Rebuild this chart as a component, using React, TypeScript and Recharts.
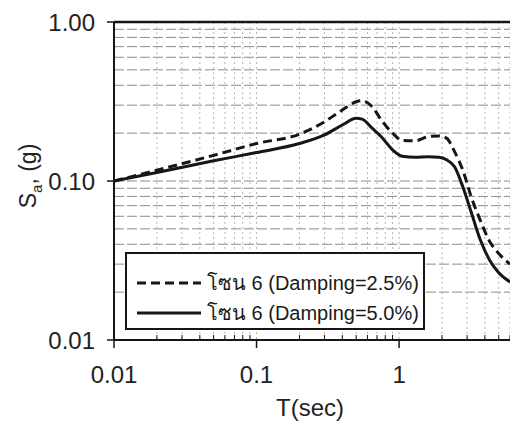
import { CartesianGrid, Legend, Line, LineChart, ReferenceLine, XAxis, YAxis } from "recharts";

const periods = [0.01, 0.02, 0.05, 0.1, 0.2, 0.3, 0.4, 0.5, 0.55, 0.65, 0.75, 0.9, 1.05, 1.3, 1.6, 1.9, 2.15, 2.45, 2.8, 3.2, 3.7, 4.3, 5.0, 6.0];
const sa25 = [0.1, 0.117, 0.145, 0.172, 0.197, 0.236, 0.28, 0.315, 0.32, 0.292, 0.242, 0.2, 0.18, 0.179, 0.19, 0.192, 0.186, 0.153, 0.117, 0.08, 0.057, 0.042, 0.035, 0.03];
const sa50 = [0.1, 0.113, 0.134, 0.151, 0.172, 0.195, 0.225, 0.248, 0.245, 0.214, 0.19, 0.157, 0.143, 0.141, 0.142, 0.141, 0.136, 0.123, 0.092, 0.064, 0.043, 0.032, 0.0265, 0.0232];

const seriesNames = ["โซน 6 (Damping=2.5%)", "โซน 6 (Damping=5.0%)"];

const xTicks = [0.01, 0.02, 0.03, 0.04, 0.05, 0.06, 0.07, 0.08, 0.09, 0.1, 0.2, 0.3, 0.4, 0.5, 0.6, 0.7, 0.8, 0.9, 1, 2, 3, 4, 5, 6];
const yTicks = [0.01, 0.02, 0.03, 0.04, 0.05, 0.06, 0.07, 0.08, 0.09, 0.1, 0.2, 0.3, 0.4, 0.5, 0.6, 0.7, 0.8, 0.9, 1];
const xLabels: Record<number, string> = { 0.01: "0.01", 0.1: "0.1", 1: "1" };
const yLabels: Record<number, string> = { 0.01: "0.01", 0.1: "0.10", 1: "1.00" };

const data = periods.map((T, i) => ({ T, d25: sa25[i], d50: sa50[i] }));

const FONT = "'Liberation Sans', Arial, 'Noto Sans', sans-serif";
const INK = "#161616";

function XTick({ x, y, payload }: any) {
  const label = xLabels[payload.value];
  if (!label) {
    return <line x1={x} x2={x} y1={y} y2={y - 5} stroke={INK} strokeWidth={1} />;
  }
  return (
    <g>
      <line x1={x} x2={x} y1={y} y2={y + 8} stroke={INK} strokeWidth={1.5} />
      <text x={x} y={y + 43} textAnchor="middle" fontSize={24} fill="#222" fontFamily={FONT}>
        {label}
      </text>
    </g>
  );
}

function YTick({ x, y, payload }: any) {
  const label = yLabels[payload.value];
  if (!label) return <g />;
  return (
    <g>
      <line x1={x - 7} x2={x} y1={y} y2={y} stroke={INK} strokeWidth={1.5} />
      <text x={x - 19} y={y + 8.5} textAnchor="end" fontSize={24} fill="#222" fontFamily={FONT}>
        {label}
      </text>
    </g>
  );
}

function YLabel() {
  return (
    <text transform="translate(36,176) rotate(-90)" textAnchor="middle" fontSize={23} fill="#222" fontFamily={FONT}>
      S
      <tspan fontSize={15} dy={6}>a</tspan>
      <tspan dy={-6}>, (g)</tspan>
    </text>
  );
}

function LegendBox({ payload }: any) {
  return (
    <div
      style={{
        width: 296,
        height: 74,
        border: `2px solid ${INK}`,
        background: "#fff",
        fontFamily: FONT,
        fontSize: 20,
        color: "#1a1a1a",
        boxSizing: "content-box",
      }}
    >
      {(payload || []).map((entry: any, i: number) => (
        <div key={i} style={{ display: "flex", alignItems: "center", height: 30, marginTop: i === 0 ? 14 : 0, paddingLeft: 10 }}>
          <svg width={64} height={10} style={{ marginRight: 6 }}>
            <line x1={0} x2={64} y1={5} y2={5} stroke={INK} strokeWidth={3} strokeDasharray={i === 0 ? "9 5" : undefined} />
          </svg>
          <span>{entry.value}</span>
        </div>
      ))}
    </div>
  );
}

export default function App() {
  return (
    <div style={{ position: "absolute", left: 0, top: 0, width: 510, height: 427, background: "#fff" }}>
      <LineChart width={510} height={427} data={data} margin={{ top: 22, right: 0, left: 0, bottom: 0 }}>
        <CartesianGrid vertical={false} stroke="#8c8c8c" strokeDasharray="10 3" />
        <CartesianGrid horizontal={false} stroke="#b5b5b5" strokeDasharray="2 3" />
        <XAxis
          dataKey="T"
          type="number"
          scale="log"
          domain={[0.01, 6]}
          allowDataOverflow
          ticks={xTicks}
          interval={0}
          height={87}
          tickSize={0}
          tickMargin={0}
          tickLine={false}
          tick={<XTick />}
          axisLine={{ stroke: INK, strokeWidth: 2 }}
          label={{ value: "T(sec)", position: "insideBottom", offset: 11, fontSize: 24, fill: "#222", fontFamily: FONT, dx: -2 }}
        />
        <YAxis
          type="number"
          scale="log"
          domain={[0.01, 1]}
          allowDataOverflow
          ticks={yTicks}
          interval={0}
          width={114}
          tickSize={0}
          tickMargin={0}
          tickLine={false}
          tick={<YTick />}
          axisLine={{ stroke: INK, strokeWidth: 2 }}
          label={{ content: () => <YLabel /> }}
        />
        <ReferenceLine y={1} stroke={INK} strokeWidth={2.5} />
        <Legend
          layout="horizontal"
          verticalAlign="middle"
          align="center"
          content={<LegendBox />}
          wrapperStyle={{ position: "absolute", left: 125, top: 252, width: 300, height: 78 }}
        />
        <Line
          dataKey="d25"
          name={seriesNames[0]}
          type="monotone"
          stroke={INK}
          strokeWidth={3}
          strokeDasharray="9 5"
          dot={false}
          isAnimationActive={false}
        />
        <Line
          dataKey="d50"
          name={seriesNames[1]}
          type="monotone"
          stroke={INK}
          strokeWidth={3}
          dot={false}
          isAnimationActive={false}
        />
      </LineChart>
    </div>
  );
}
